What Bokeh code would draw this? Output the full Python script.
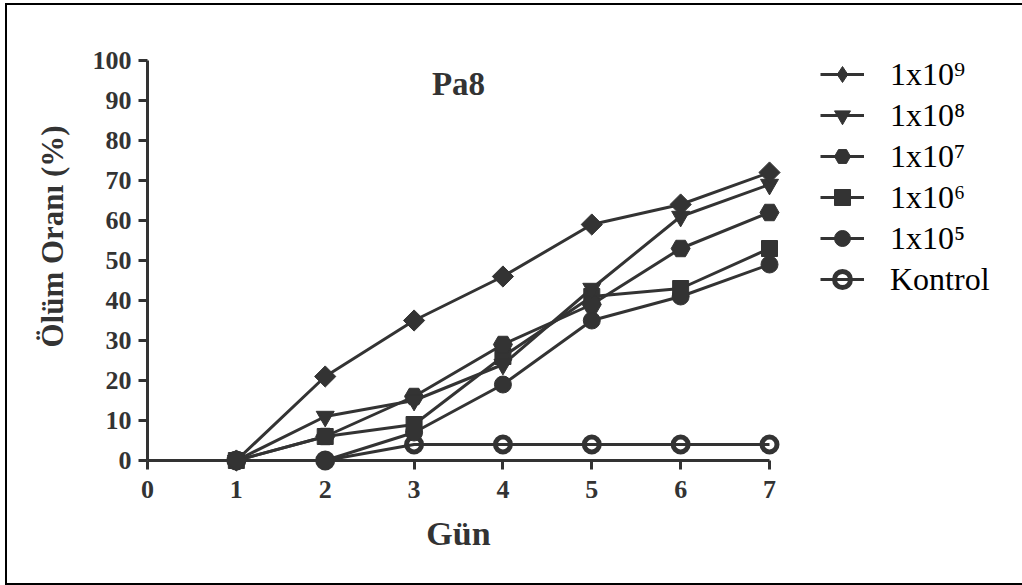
import numpy as np
from bokeh.plotting import figure
from bokeh.models import Range1d, FixedTicker, Legend, LegendItem, Label
from bokeh.embed import file_html
from bokeh.resources import INLINE

# ---- data ----
days = [1, 2, 3, 4, 5, 6, 7]
s_1e9 = [0, 21, 35, 46, 59, 64, 72]
s_1e8 = [0, 11, 15, 24, 43, 61, 69]
s_1e7 = [0, 6, 16, 29, 39, 53, 62]
s_1e6 = [0, 6, 9, 26, 41, 43, 53]
s_1e5 = [0, 0, 7, 19, 35, 41, 49]
kontrol = [0, 0, 4, 4, 4, 4, 4]
series_labels = ["1x10⁹", "1x10⁸", "1x10⁷", "1x10⁶", "1x10⁵", "Kontrol"]
x_ticks = [0, 1, 2, 3, 4, 5, 6, 7]
y_ticks = [0, 10, 20, 30, 40, 50, 60, 70, 80, 90, 100]
title_text = "Pa8"
x_label = "Gün"
y_label = "Ölüm Oranı (%)"

FONT = "Liberation Serif"
INK = "#333333"

# frame: x 0..7, y 0..112 (axis drawn 0..100)
p = figure(frame_width=622, frame_height=448, output_backend="svg", toolbar_location=None,
           x_range=Range1d(0, 7), y_range=Range1d(0, 112),
           min_border_left=140, min_border_right=253,
           min_border_top=7, min_border_bottom=123,
           background_fill_color="white", border_fill_color="white",
           margin=(5, 0, 0, 7),
           styles={"outline": "2px solid black"})
p.outline_line_color = None
p.xgrid.visible = False
p.ygrid.visible = False

# axes
p.xaxis.bounds = (0, 7)
p.yaxis.bounds = (0, 100)
p.xaxis.ticker = FixedTicker(ticks=x_ticks)
p.yaxis.ticker = FixedTicker(ticks=y_ticks)
p.xaxis.minor_tick_line_color = None
p.yaxis.minor_tick_line_color = None
for ax in (p.xaxis[0], p.yaxis[0]):
    ax.axis_line_width = 3
    ax.axis_line_color = INK
    ax.major_tick_line_width = 3
    ax.major_tick_line_color = INK
    ax.major_tick_out = 9
    ax.major_tick_in = 0
    ax.major_label_text_font = FONT
    ax.major_label_text_font_style = "bold"
    ax.major_label_text_font_size = "26px"
    ax.major_label_text_color = INK
    ax.axis_label_text_font = FONT
    ax.axis_label_text_font_style = "bold"
    ax.axis_label_text_color = INK
p.xaxis.axis_label = x_label
p.yaxis.axis_label = y_label
p.xaxis.axis_label_text_font_size = "34px"
p.yaxis.axis_label_text_font_size = "31px"
p.xaxis.major_label_standoff = 11
p.yaxis.major_label_standoff = 7
p.xaxis.axis_label_standoff = 14
p.yaxis.axis_label_standoff = 20

# series (drawn bottom to top); overlay level so that markers on the axes are not clipped
specs = [
    (kontrol, "Kontrol", dict(marker="circle", size=15, fill_alpha=0, line_width=5, angle=0, legend_marker="circle")),
    (s_1e5, "1x10⁵", dict(marker="circle", size=17, fill_alpha=1, line_width=1, angle=0, legend_marker="circle")),
    (s_1e6, "1x10⁶", dict(marker="square", size=16, fill_alpha=1, line_width=1, angle=0, legend_marker="square")),
    (s_1e7, "1x10⁷", dict(marker="hex", size=19, fill_alpha=1, line_width=1, angle=0, legend_marker="hex")),
    (s_1e8, "1x10⁸", dict(marker="inverted_triangle", size=18, fill_alpha=1, line_width=1, angle=0, legend_marker="inverted_triangle")),
    (s_1e9, "1x10⁹", dict(marker="square", size=15, fill_alpha=1, line_width=1, angle=np.pi / 4, legend_marker="diamond")),
]
renderers = {}
for vals, lab, st in specs:
    lr = p.line(days, vals, line_color=INK, line_width=3, level="overlay")
    sr = p.scatter(days, vals, marker=st["marker"], size=st["size"], angle=st["angle"],
                   fill_color=INK, fill_alpha=st["fill_alpha"],
                   line_color=INK, line_width=st["line_width"], level="overlay")
    if st["legend_marker"] != st["marker"]:
        # legend-only marker: same points, hidden in the chart
        sr = p.scatter(days, vals, marker=st["legend_marker"], size=st["size"],
                       fill_color=INK, fill_alpha=st["fill_alpha"],
                       line_color=INK, line_width=st["line_width"], level="overlay",
                       visible=False)
    renderers[lab] = [lr, sr]

legend = Legend(items=[LegendItem(label=lab, renderers=renderers[lab]) for lab in series_labels],
                location=(51, 161), orientation="vertical",
                glyph_width=44, glyph_height=40, label_height=40, spacing=1,
                label_standoff=26, padding=0, margin=0,
                border_line_color=None, background_fill_alpha=0,
                label_text_font=FONT, label_text_font_size="32px",
                label_text_baseline="hanging",
                label_text_color="black")
p.add_layout(legend, "right")

p.add_layout(Label(x=3.5, y=94.25, text=title_text, text_align="center",
                   text_baseline="alphabetic", text_font=FONT, text_font_size="33px",
                   text_font_style="bold", text_color=INK))

open("out.html", "w").write(file_html(p, INLINE))
